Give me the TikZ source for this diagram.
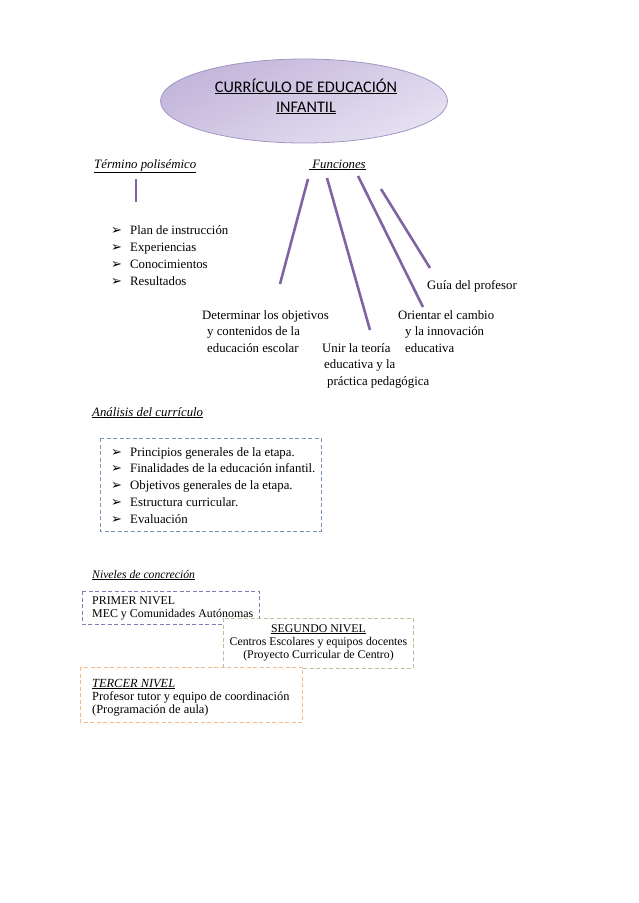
\documentclass[tikz,border=0pt]{standalone}
\usepackage{fontspec}
\setmainfont{Liberation Serif}
\newfontfamily\titlefont{Carlito}
\newfontfamily\symfont{DejaVu Sans}
\usetikzlibrary{shapes.geometric}
\definecolor{linepurple}{RGB}{128,100,162}
\definecolor{elltop}{RGB}{194,181,218}
\definecolor{ellbot}{RGB}{230,225,242}
\definecolor{ellborder}{RGB}{160,152,196}
\definecolor{boxblue}{RGB}{124,148,184}
\definecolor{boxpurple}{RGB}{140,120,178}
\definecolor{boxkhaki}{RGB}{196,189,151}
\definecolor{boxorange}{RGB}{246,186,136}
\begin{document}
\begin{tikzpicture}[x=1pt,y=-1pt,
  txt/.style={font=\fontsize{12.8}{16.5}\selectfont, inner sep=0pt, anchor=base west, align=left},
  small/.style={font=\fontsize{11.9}{13}\selectfont, inner sep=0pt, anchor=base west, align=left},
  bul/.style={font=\symfont\fontsize{13}{13}\selectfont, inner sep=0pt, anchor=base west},
  fline/.style={draw=linepurple, line width=2.6pt},
  dashbox/.style={line width=1pt, dash pattern=on 4pt off 2.5pt, fill=white}
]
\useasboundingbox (0,0) rectangle (638,903);

% title ellipse
\node (ell) [ellipse, draw=ellborder, line width=0.8pt, minimum width=287pt, minimum height=84pt,
  shading=axis, top color=elltop, bottom color=ellbot, shading angle=25] at (304,101) {};
\node (title) [font=\titlefont\fontsize{16.2}{20}\selectfont, inner sep=0pt, anchor=base, align=center]
  at (306,112) {\underline{CURRÍCULO DE EDUCACIÓN}\\\underline{INFANTIL}};

% headings
\node (termino) [txt] at (94,168) {\underline{\textit{Término polisémico}}};
\node (funciones) [txt] at (309,168) {\underline{\textit{\ Funciones}}};

% term list
\coordinate (tp1) at (136,179);
\coordinate (tp2) at (136,202);
\draw[fline] (tp1) -- (tp2);
\foreach \t [count=\i] in {Plan de instrucción, Experiencias, Conocimientos, Resultados}{
  \node (tb\i) [bul] at (111,{234+17*(\i-1)}) {➢};
  \node (tl\i) [txt] at (130,{234+17*(\i-1)}) {\t};
}

% functions lines
\coordinate (f1a) at (308,179);
\coordinate (f1b) at (280,284);
\coordinate (f2a) at (327,178);
\coordinate (f2b) at (370,330);
\coordinate (f3a) at (358,176);
\coordinate (f3b) at (423,307);
\coordinate (f4a) at (381,189);
\coordinate (f4b) at (430,268);
\draw[fline] (f1a) -- (f1b);
\draw[fline] (f2a) -- (f2b);
\draw[fline] (f3a) -- (f3b);
\draw[fline] (f4a) -- (f4b);

\node (guia) [txt] at (427,289) {Guía del profesor};
\node (determinar) [txt] at (202,352) {Determinar los objetivos\\\hspace*{5pt}y contenidos de la\\\hspace*{5pt}educación escolar};
\node (orientar) [txt] at (398,352) {Orientar el cambio\\\hspace*{7pt}y la innovación\\\hspace*{7pt}educativa};
\node (unir) [txt] at (322,385) {Unir la teoría\\\hspace*{2pt}educativa y la\\\hspace*{5pt}práctica pedagógica};

% analysis
\node (analisis) [txt] at (92,416) {\underline{\textit{Análisis del currículo}}};
\draw[dashbox, draw=boxblue] (100,438) rectangle (321,531);
\foreach \t [count=\i] in {Principios generales de la etapa., Finalidades de la educación infantil., Objetivos generales de la etapa., Estructura curricular., Evaluación}{
  \node (ab\i) [bul] at (111,{456+16.75*(\i-1)}) {➢};
  \node (al\i) [txt] at (130,{456+16.75*(\i-1)}) {\t};
}

% levels
\node (niveles) [txt, font=\fontsize{11.7}{14}\selectfont] at (92,578) {\underline{\textit{Niveles de concreción}}};
\draw[dashbox, draw=boxpurple] (82,591) rectangle (259,624);
\node (primer) [small] at (92,617) {PRIMER NIVEL\\MEC y Comunidades Autónomas};
\draw[dashbox, draw=boxkhaki] (223,618) rectangle (413,668);
\node (segundo) [small, anchor=base, align=center, font=\fontsize{11.8}{13}\selectfont] at (318.5,658)
  {\underline{SEGUNDO NIVEL}\\Centros Escolares y equipos docentes\\(Proyecto Curricular de Centro)};
\draw[dashbox, draw=boxorange] (80,667) rectangle (302,722);
\node (tercer) [small, font=\fontsize{12.4}{13}\selectfont] at (92,713)
  {\underline{\textit{TERCER NIVEL}}\\Profesor tutor y equipo de coordinación\\(Programación de aula)};
\end{tikzpicture}
\end{document}
